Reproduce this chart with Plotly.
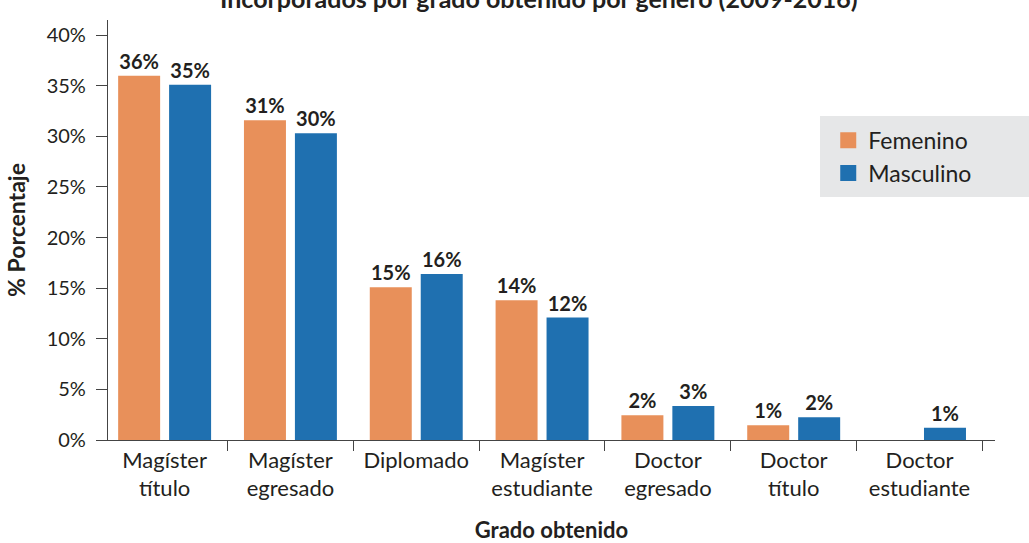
import plotly.graph_objects as go

categories = ["Magíster<br>título", "Magíster<br>egresado", "Diplomado",
              "Magíster<br>estudiante", "Doctor<br>egresado", "Doctor<br>título",
              "Doctor<br>estudiante"]
femenino = [36.0, 31.6, 15.1, 13.8, 2.45, 1.45, 0]
masculino = [35.1, 30.3, 16.4, 12.1, 3.35, 2.25, 1.2]
femenino_labels = ["36%", "31%", "15%", "14%", "2%", "1%", ""]
masculino_labels = ["35%", "30%", "16%", "12%", "3%", "2%", "1%"]
y_ticks = [0, 5, 10, 15, 20, 25, 30, 35, 40]
y_tick_labels = [f"{v}%" for v in y_ticks]
title_text = "Incorporados por grado obtenido por género (2009-2016)"

FONT = "Lato"
TXT = "#231f20"
ORANGE = "#e8905a"
BLUE = "#1f70b0"

fig = go.Figure()
for name, vals, labels, color in [("Femenino", femenino, femenino_labels, ORANGE),
                                  ("Masculino", masculino, masculino_labels, BLUE)]:
    fig.add_trace(go.Bar(
        name=name, x=categories, y=vals, text=labels,
        textposition="outside", cliponaxis=False, showlegend=False,
        marker=dict(color=color, line=dict(width=0)),
        textfont=dict(family=FONT, size=20, color=TXT, weight="bold"),
    ))
# legend entries with larger square swatches
for name, color in [("Femenino", ORANGE), ("Masculino", BLUE)]:
    fig.add_trace(go.Scatter(
        name=name, x=[None], y=[None], mode="markers",
        marker=dict(symbol="square", size=16, color=color),
        showlegend=True,
    ))

fig.update_layout(
    width=1029, height=543,
    margin=dict(l=108, r=34, t=20, b=103),
    paper_bgcolor="white", plot_bgcolor="white",
    barmode="group", bargap=0.19, bargroupgap=0.176,
    font=dict(family=FONT, size=20, color=TXT),
    annotations=[dict(text=f"<b>{title_text}</b>", xref="paper", yref="paper",
                      x=0.486, y=1.053, xanchor="center", yanchor="middle",
                      showarrow=False, font=dict(family=FONT, size=25, color=TXT))],
    legend=dict(x=0.812, xanchor="left", y=0.765, yanchor="top",
                bgcolor="rgba(0,0,0,0)", font=dict(family=FONT, size=23, color=TXT),
                itemsizing="trace"),
    shapes=[dict(type="rect", xref="paper", yref="paper",
                 x0=0.8027, x1=1.04, y0=0.5786, y1=0.7714,
                 fillcolor="#e6e7e8", line=dict(width=0), layer="below")],
)
fig.update_xaxes(
    range=[-0.45, 6.6], showline=True, linecolor="#444", linewidth=1.2,
    ticks="outside", tickson="boundaries", ticklen=10, tickcolor="#444",
    showgrid=False, zeroline=False, automargin=False,
    title=dict(text="<b>Grado obtenido</b>", font=dict(family=FONT, size=22, color=TXT), standoff=30),
    tickfont=dict(family=FONT, size=22, color=TXT),
)
fig.update_yaxes(
    range=[0, 41.5], tickvals=y_ticks, ticktext=y_tick_labels,
    showline=True, linecolor="#444", linewidth=1.2,
    ticks="outside", ticklen=11, tickcolor="#444", ticklabelstandoff=6,
    showgrid=False, zeroline=False, automargin=False,
    title=dict(text="<b>% Porcentaje</b>", font=dict(family=FONT, size=23, color=TXT), standoff=14),
    tickfont=dict(family=FONT, size=20, color=TXT),
)

fig.write_html("out.html", config={"displayModeBar": False},
               post_script="document.body.style.margin='0px';")
